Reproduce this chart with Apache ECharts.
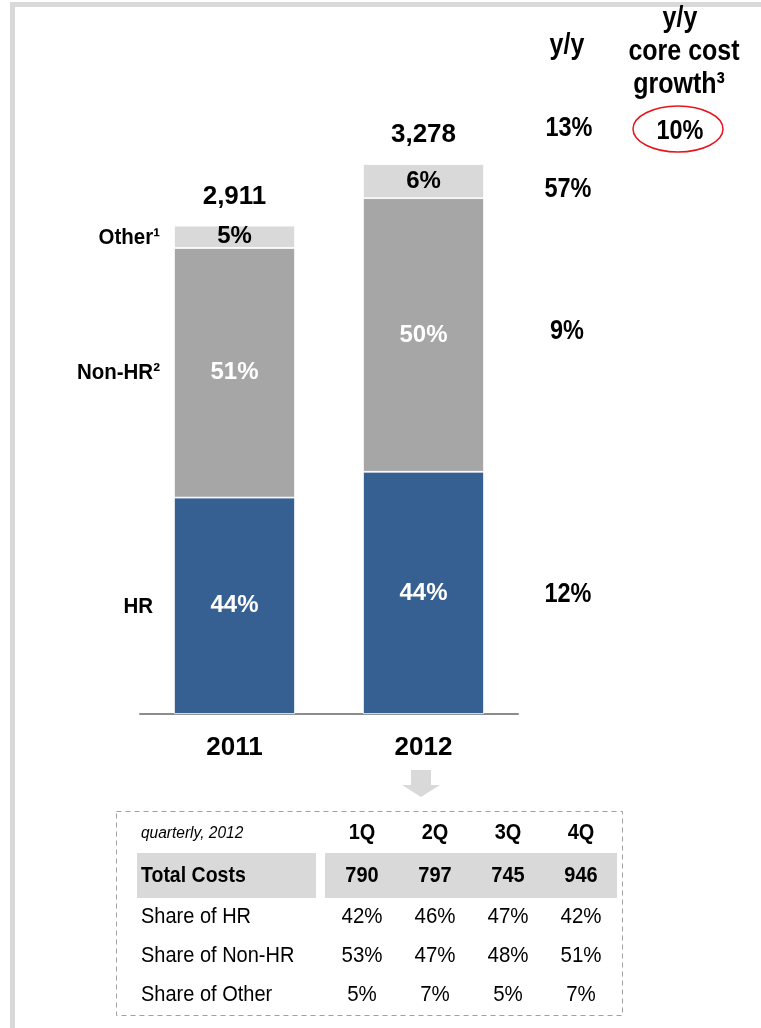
<!DOCTYPE html>
<html>
<head>
<meta charset="utf-8">
<script src="https://cdn.jsdelivr.net/npm/echarts@6/dist/echarts.min.js"></script>
<style>
  html, body { margin: 0; padding: 0; background: #fff; }
  #chart { width: 761px; height: 1028px; }
</style>
</head>
<body>
<div id="chart"></div>
<script>
// 年度成本构成
const years = ['2011', '2012'];
const hrCost = [1290, 1444];
const nonHrCost = [1488, 1631];
const otherCost = [133, 203];
const totalCost = [2911, 3278];
const hrShare = ['44%', '44%'];
const nonHrShare = ['51%', '50%'];
const otherShare = ['5%', '6%'];
const segmentNames = ['HR', 'Non-HR²', 'Other¹'];

// y/y 增长
const yoyTotal = '13%';
const yoyOther = '57%';
const yoyNonHr = '9%';
const yoyHr = '12%';
const coreCostGrowth = '10%';

// 2012 季度表
const quarters = ['1Q', '2Q', '3Q', '4Q'];
const qTotal = [790, 797, 745, 946];
const qHrShare = ['42%', '46%', '47%', '42%'];
const qNonHrShare = ['53%', '47%', '48%', '51%'];
const qOtherShare = ['5%', '7%', '5%', '7%'];

const FONT = '"Liberation Sans", Arial, sans-serif';
const chart = echarts.init(document.getElementById('chart'));

function segLabel(texts, color) {
  return {
    show: true, position: 'inside', color: color,
    fontSize: 24, fontWeight: 'bold', fontFamily: FONT,
    formatter: p => texts[p.dataIndex]
  };
}
const barStyle = color => ({ color: color, borderColor: '#fff', borderWidth: 0.8 });

chart.setOption({
  animation: false,
  grid: { left: 140, right: 243, top: 43, bottom: 314 },
  xAxis: {
    type: 'category', data: years,
    axisLine: { lineStyle: { color: '#8c8c8c', width: 2 } },
    axisTick: { show: false },
    axisLabel: { color: '#000', fontSize: 26, fontWeight: 'bold', fontFamily: FONT, margin: 21 }
  },
  yAxis: { type: 'value', min: 0, max: 4000, show: false },
  series: [
    { name: 'HR', type: 'bar', stack: 'cost', data: hrCost, barWidth: 121, barGap: '-100%',
      itemStyle: barStyle('#366092'), label: segLabel(hrShare, '#fff') },
    { name: 'Non-HR', type: 'bar', stack: 'cost', data: nonHrCost, barWidth: 121, barGap: '-100%',
      itemStyle: barStyle('#a6a6a6'), label: segLabel(nonHrShare, '#fff') },
    { name: 'Other', type: 'bar', stack: 'cost', data: otherCost, barWidth: 121, barGap: '-100%',
      itemStyle: barStyle('#d9d9d9'), label: segLabel(otherShare, '#000') },
    { name: 'Total', type: 'bar', data: totalCost, barWidth: 121, barGap: '-100%', z: 1,
      itemStyle: { color: 'transparent' },
      label: {
        show: true, position: 'top', distance: 16, color: '#000',
        fontSize: 26, fontWeight: 'bold', fontFamily: FONT,
        formatter: p => p.value.toLocaleString('en-US')
      } }
  ]
});

// 文本小工具（参考图里的字偏高，用 scaleY 拉一点）
function txt(text, x, y, font, align, sy) {
  return {
    type: 'text', z: 10, x: x, y: y, scaleY: sy || 1.12,
    style: {
      text: text, x: 0, y: 0, font: font, fill: '#000',
      align: align || 'center', textAlign: align || 'center',
      verticalAlign: 'middle', textVerticalAlign: 'middle'
    }
  };
}
const B = s => 'bold ' + s + 'px ' + FONT;
const N = s => s + 'px ' + FONT;

const g = [];
// 外框
g.push({ type: 'rect', shape: { x: 10, y: 2, width: 751, height: 5 }, style: { fill: '#d9d9d9' } });
g.push({ type: 'rect', shape: { x: 10, y: 2, width: 5, height: 1026 }, style: { fill: '#d9d9d9' } });

// 左侧分类标签，按 2011 柱子各段中点定位
const yMid = (a, b) => chart.convertToPixel({ yAxisIndex: 0 }, (a + b) / 2);
const hrY = yMid(0, hrCost[0]);
const nonY = yMid(hrCost[0], hrCost[0] + nonHrCost[0]);
const othY = yMid(hrCost[0] + nonHrCost[0], totalCost[0]);
g.push(txt(segmentNames[0], 153, hrY + 1, B(20.5), 'right'));
g.push(txt(segmentNames[1], 160, nonY, B(20.5), 'right'));
g.push(txt(segmentNames[2], 160, othY + 1, B(20.5), 'right'));

// y/y 列
g.push(txt('y/y', 567, 46, B(25), 'center', 1.2));
g.push(txt(yoyTotal, 569, 128, B(23.5), 'center', 1.2));
g.push(txt(yoyOther, 568, 189, B(23.5), 'center', 1.2));
g.push(txt(yoyNonHr, 567, 331, B(23.5), 'center', 1.2));
g.push(txt(yoyHr, 568, 594, B(23.5), 'center', 1.2));

g.push(txt('y/y', 680, 19, B(25), 'center', 1.2));
g.push(txt('core cost', 684, 52, B(25), 'center', 1.2));
g.push(txt('growth³', 679, 85, B(25), 'center', 1.2));
g.push(txt(coreCostGrowth, 680, 131, B(23.5), 'center', 1.2));
g.push({ type: 'ellipse', shape: { cx: 678, cy: 129, rx: 45, ry: 23 },
  style: { fill: 'none', stroke: '#e8151b', lineWidth: 1.5 } });

// 向下箭头
g.push({ type: 'polygon', shape: { points: [[411, 770], [431, 770], [431, 785], [440, 785], [421, 797], [402, 785], [411, 785]] },
  style: { fill: '#d9d9d9' } });

// 季度表
g.push({ type: 'rect', shape: { x: 116.5, y: 811.5, width: 506, height: 204 },
  style: { fill: 'none', stroke: '#a0a0a0', lineWidth: 1, lineDash: [5, 4] } });
g.push({ type: 'rect', shape: { x: 137, y: 853, width: 179, height: 45 }, style: { fill: '#d9d9d9' } });
g.push({ type: 'rect', shape: { x: 325, y: 853, width: 292, height: 45 }, style: { fill: '#d9d9d9' } });

const colX = [362, 435, 508, 581];
const rowY = { head: 833, total: 876, hr: 917, non: 956, oth: 995 };
g.push(txt('quarterly, 2012', 141, rowY.head, 'italic 15.5px ' + FONT, 'left'));
g.push(txt('Total Costs', 141, rowY.total, B(19.5), 'left'));
g.push(txt('Share of HR', 141, rowY.hr, N(20), 'left'));
g.push(txt('Share of Non-HR', 141, rowY.non, N(20), 'left'));
g.push(txt('Share of Other', 141, rowY.oth, N(20), 'left'));
quarters.forEach((q, i) => {
  g.push(txt(q, colX[i], rowY.head, B(20)));
  g.push(txt(String(qTotal[i]), colX[i], rowY.total, B(20)));
  g.push(txt(qHrShare[i], colX[i], rowY.hr, N(20.5)));
  g.push(txt(qNonHrShare[i], colX[i], rowY.non, N(20.5)));
  g.push(txt(qOtherShare[i], colX[i], rowY.oth, N(20.5)));
});

chart.setOption({ graphic: g });
</script>
</body>
</html>
